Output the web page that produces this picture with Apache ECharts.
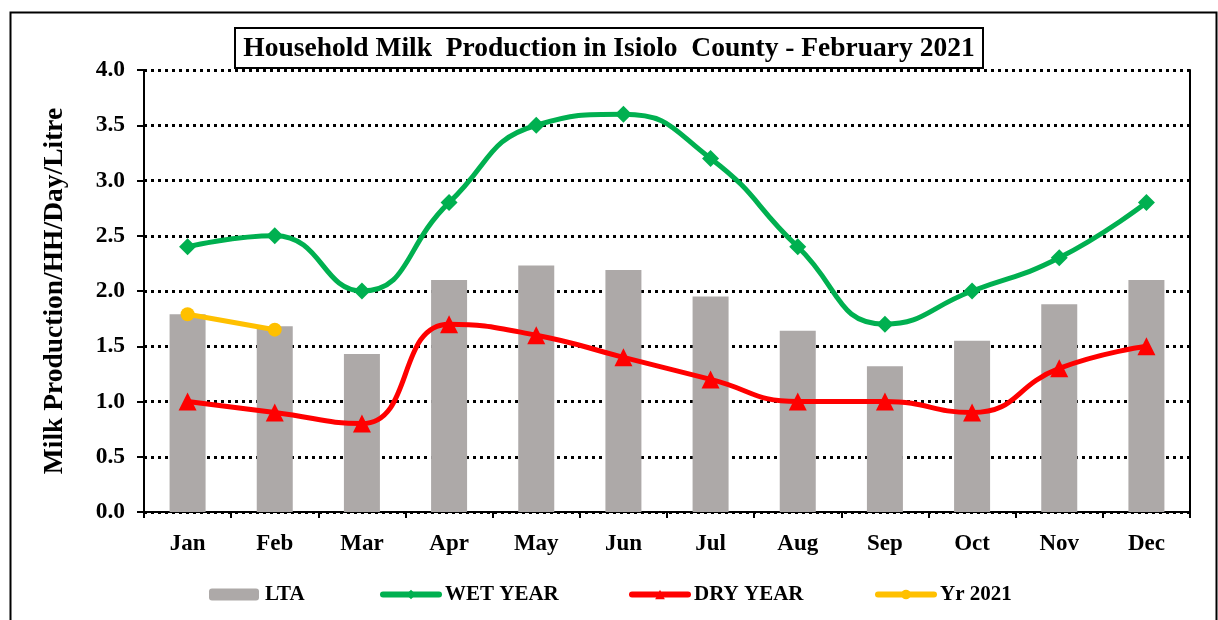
<!DOCTYPE html>
<html><head><meta charset="utf-8">
<script src="https://cdn.jsdelivr.net/npm/echarts@6/dist/echarts.min.js"></script>
<style>html,body{margin:0;padding:0;background:#fff}#c{width:1218px;height:620px}</style>
</head><body><div id="c"></div>
<script>
const months = ['Jan','Feb','Mar','Apr','May','Jun','Jul','Aug','Sep','Oct','Nov','Dec'];
const lta = [1.79, 1.68, 1.43, 2.10, 2.23, 2.19, 1.95, 1.64, 1.32, 1.55, 1.88, 2.10];
const wetYear = [2.4, 2.5, 2.0, 2.8, 3.5, 3.6, 3.2, 2.4, 1.7, 2.0, 2.3, 2.8];
const dryYear = [1.0, 0.9, 0.8, 1.7, 1.6, 1.4, 1.2, 1.0, 1.0, 0.9, 1.3, 1.5];
const yr2021 = [1.79, 1.65];
const yTicks = ['0.0','0.5','1.0','1.5','2.0','2.5','3.0','3.5','4.0'];
const seriesNames = ['LTA','WET YEAR','DRY YEAR','Yr 2021'];

const F = '"Liberation Serif","Times New Roman",serif';
const legendLeft = [204, 375, 624, 870];
const legendIconW = [50, 56, 56, 56];
const chart = echarts.init(document.getElementById('c'), null, {renderer:'canvas'});
chart.setOption({
  animation: false,
  backgroundColor: '#fff',
  graphic: [{
    type: 'polyline', z: -1,
    shape: {points: [[10.5, 640], [10.5, 12.5], [1216.5, 12.5], [1216.5, 640]]},
    style: {stroke: '#000', lineWidth: 2, fill: null}
  }],
  title: {
    text: 'Household Milk  Production in Isiolo  County - February 2021',
    left: 'center', top: 28,
    padding: [4, 9, 3, 9],
    borderColor: '#000', borderWidth: 2,
    textStyle: {fontFamily: F, fontWeight: 'bold', fontSize: 27.5, lineHeight: 33, color: '#000'}
  },
  legend: seriesNames.map((n, i) => ({
    top: 579, left: legendLeft[i],
    itemWidth: legendIconW[i], itemHeight: 12, itemGap: 4,
    lineStyle: {width: 6, cap: 'round'},
    textStyle: {fontFamily: F, fontWeight: 'bold', fontSize: 21, color: '#000', padding: [0, 0, 0, 1]},
    data: [n]
  })),
  grid: {left: 144, right: 28, top: 70, bottom: 108},
  xAxis: {
    type: 'category', data: months,
    axisLine: {lineStyle: {color: '#000', width: 2}},
    axisTick: {show: true, length: 6, lineStyle: {color: '#000', width: 2}},
    axisLabel: {fontFamily: F, fontWeight: 'bold', fontSize: 23, color: '#000', margin: 21}
  },
  yAxis: [{
    type: 'value', min: 0, max: 4, interval: 0.5,
    name: 'Milk Production/HH/Day/Litre',
    nameLocation: 'middle', nameGap: 75, nameRotate: 90,
    nameTextStyle: {fontFamily: F, fontWeight: 'bold', fontSize: 27.5, color: '#000'},
    axisLine: {show: true, lineStyle: {color: '#000', width: 2}},
    axisTick: {show: true, length: 7, lineStyle: {color: '#000', width: 2}},
    axisLabel: {fontFamily: F, fontWeight: 'bold', fontSize: 23.5, color: '#000', margin: 19,
      formatter: v => yTicks[Math.round(v / 0.5)]},
    splitLine: {show: true, lineStyle: {color: '#000', width: 3, type: [3, 4]}}
  }, {
    type: 'value', min: 0, max: 4, interval: 0.5, position: 'right',
    axisLine: {show: true, lineStyle: {color: '#000', width: 2}},
    axisTick: {show: false}, axisLabel: {show: false}, splitLine: {show: false}
  }],
  series: [{
    name: 'LTA', type: 'bar', data: lta, barWidth: 36,
    itemStyle: {color: '#ADA9A8'}, z: 1
  }, {
    name: 'WET YEAR', type: 'line', data: wetYear, smooth: 0.5,
    symbol: 'diamond', symbolSize: 17,
    lineStyle: {color: '#00B050', width: 5}, itemStyle: {color: '#00B050'}, z: 3
  }, {
    name: 'DRY YEAR', type: 'line', data: dryYear, smooth: 0.5,
    symbol: 'triangle', symbolSize: 18,
    lineStyle: {color: '#FF0000', width: 5}, itemStyle: {color: '#FF0000'}, z: 3
  }, {
    name: 'Yr 2021', type: 'line', data: yr2021,
    symbol: 'circle', symbolSize: 14,
    lineStyle: {color: '#FFC000', width: 5}, itemStyle: {color: '#FFC000'}, z: 4
  }]
});
</script></body></html>
